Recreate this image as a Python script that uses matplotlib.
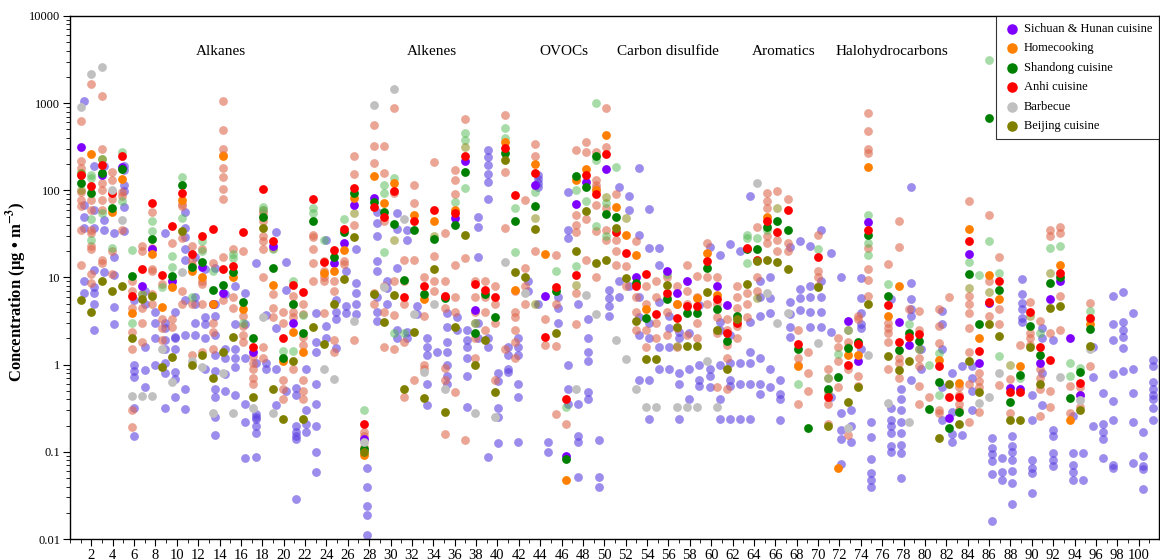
import numpy as np
import matplotlib
matplotlib.use("Agg")
import matplotlib.pyplot as plt
from matplotlib.ticker import LogLocator, FuncFormatter, MultipleLocator, NullFormatter

plt.rcParams['font.family'] = ['Liberation Serif', 'DejaVu Serif']
plt.rcParams['mathtext.fontset'] = 'stix'

# compound columns (1..107), values in ug/m3
n_compounds = 107

# group means (solid markers)
sichuan = {1: 316, 3: 150, 5: 187, 7: 8.0, 8: 21, 10: 9, 13: 13.3, 14: 5, 15: 6.6, 18: 1.4, 20: 23,
           22: 3.0, 26: 14.5, 27: 25, 28: 68, 29: 0.14, 30: 81, 38: 48, 39: 218, 40: 4.2, 46: 115,
           47: 6.2, 49: 0.089, 50: 70, 51: 123, 53: 177, 56: 10.2, 59: 12, 60: 6.7, 61: 9, 64: 8.0,
           65: 4.8, 77: 3.2, 78: 1.1, 79: 43, 82: 3.1, 83: 1.7, 87: 0.245, 89: 18.4, 90: 1.04,
           91: 5.1, 93: 0.54, 94: 0.52, 96: 1.04, 97: 5.6, 98: 9.0, 99: 2.04, 100: 0.45}
homecooking = {2: 258, 4: 56, 5: 135, 6: 3.9, 8: 18.8, 9: 4.6, 10: 7.7, 11: 78, 12: 12, 13: 10,
               14: 4.9, 15: 247, 16: 10.2, 17: 4.3, 20: 8.2, 21: 1.1, 22: 2.4, 23: 1.4, 25: 11.3,
               26: 12, 27: 20.5, 28: 82, 29: 0.093, 30: 147, 31: 72, 32: 122, 34: 52, 35: 5.6,
               36: 45, 38: 60, 43: 355, 44: 7.2, 46: 200, 47: 18.6, 49: 0.047, 50: 130, 51: 174,
               52: 102, 53: 427, 54: 65, 55: 31, 56: 18, 57: 4.4, 60: 4.9, 62: 5.8, 63: 19, 64: 6.3,
               69: 50, 72: 0.97, 76: 0.066, 77: 1.3, 78: 1.3, 79: 186, 81: 3.65, 82: 8.0, 86: 1.13,
               88: 0.62, 89: 36, 90: 2.0, 91: 10.6, 92: 5.7, 94: 0.96, 98: 13.8, 99: 0.23, 101: 2.95}
shandong = {1: 121, 2: 93, 3: 160, 4: 63, 5: 177, 6: 10.5, 8: 27.7, 10: 10.4, 11: 115, 12: 13.2,
            13: 15, 14: 7.1, 15: 8.3, 16: 11.6, 17: 5.3, 18: 2.0, 19: 49, 20: 13, 21: 1.2, 22: 4.9,
            23: 2.3, 24: 44, 26: 17, 27: 33, 28: 93, 29: 0.107, 30: 73, 31: 56, 32: 41, 33: 9.3,
            34: 35, 35: 6.4, 36: 27.5, 37: 5.8, 38: 40, 39: 162, 40: 2.3, 41: 6.4, 42: 3.5,
            43: 270, 44: 44, 46: 66, 48: 7.0, 49: 0.083, 50: 146, 51: 108, 52: 247, 53: 54, 54: 50,
            56: 8.7, 57: 3.4, 59: 5.7, 61: 3.9, 62: 3.9, 63: 13, 64: 4.4, 65: 1.85, 66: 3.6,
            67: 21.5, 68: 21.5, 69: 38, 70: 45, 71: 35, 72: 1.5, 73: 0.187, 75: 0.53, 76: 0.73,
            77: 1.57, 78: 1.82, 79: 31, 81: 6.2, 82: 1.49, 83: 2.3, 84: 1.85, 85: 0.31, 86: 0.63,
            87: 0.19, 88: 0.29, 89: 11.1, 90: 2.95, 91: 675, 92: 7.1, 93: 0.37, 94: 0.76, 95: 2.8,
            96: 1.3, 97: 8.6, 98: 10.0, 99: 0.41, 100: 0.82, 101: 2.56}
anhui = {1: 148, 2: 112, 3: 195, 4: 93, 5: 250, 6: 6.2, 7: 12.4, 8: 72, 9: 10.7, 10: 39, 11: 94,
         12: 18.4, 13: 30, 14: 36, 15: 12.6, 16: 13.7, 17: 33, 18: 1.6, 19: 104, 20: 26, 21: 2.0,
         22: 8.1, 23: 6.8, 24: 79, 25: 15.2, 26: 20.5, 27: 36, 28: 107, 29: 0.21, 30: 65, 31: 49,
         32: 98, 33: 6.0, 34: 44, 35: 7.9, 36: 59, 37: 6.2, 38: 55, 39: 250, 40: 8.4, 41: 7.1,
         42: 6.0, 43: 305, 44: 88, 46: 160, 47: 2.1, 48: 7.7, 49: 0.40, 50: 10.6, 51: 148, 52: 91,
         53: 263, 54: 33, 55: 19, 56: 7.9, 57: 11, 58: 3.8, 59: 6.7, 60: 3.4, 61: 4.7, 62: 4.7,
         63: 15.5, 64: 5.6, 65: 2.3, 66: 3.0, 67: 22, 68: 16, 69: 45, 70: 33, 71: 59, 72: 1.73,
         74: 17, 75: 0.43, 77: 1.0, 78: 1.74, 79: 35.5, 81: 4.8, 82: 1.8, 83: 2.1, 84: 2.25,
         86: 0.97, 87: 0.43, 88: 0.43, 89: 26, 90: 1.45, 91: 5.3, 92: 9.0, 93: 0.48, 94: 0.49,
         95: 4.0, 96: 1.6, 97: 1.12, 98: 11.4, 100: 0.62, 101: 3.4}
barbecue = {1: 900, 2: 2180, 3: 2580, 4: 100, 5: 46, 6: 0.44, 7: 0.44, 8: 0.44, 9: 1.5, 10: 0.63,
            11: 11.7, 12: 1.1, 13: 0.94, 14: 0.28, 15: 0.8, 16: 0.28, 18: 0.32, 19: 3.5, 20: 0.28,
            25: 0.89, 26: 0.69, 28: 3.2, 29: 0.13, 30: 960, 31: 7.8, 32: 1460, 33: 47, 34: 3.8,
            35: 0.82, 36: 5.0, 37: 0.53, 40: 0.28, 42: 0.25, 43: 15, 45: 6.7, 50: 0.52, 51: 6.3,
            52: 3.8, 54: 1.94, 55: 1.17, 56: 0.52, 57: 0.33, 58: 0.33, 60: 0.33, 61: 0.33,
            62: 0.33, 63: 1.1, 64: 0.33, 68: 120, 69: 6.7, 70: 3.0, 71: 3.9, 74: 1.77, 77: 0.19,
            79: 1.3, 81: 0.36, 83: 0.22, 90: 0.36, 91: 0.43, 92: 0.80, 98: 0.72, 100: 0.39, 101: 1.5}
beijing = {1: 5.5, 2: 4.0, 3: 9.1, 4: 7.0, 5: 7.9, 6: 2.0, 7: 5.6, 8: 6.1, 9: 0.93, 10: 1.22,
           11: 34, 12: 1.0, 13: 1.3, 14: 0.70, 15: 1.4, 16: 2.1, 18: 0.43, 19: 37, 20: 0.53,
           21: 0.24, 22: 1.1, 23: 0.24, 24: 2.7, 25: 1.74, 26: 5.0, 27: 9.5, 28: 29, 29: 0.10,
           30: 6.4, 31: 3.1, 32: 6.3, 33: 0.52, 34: 2.4, 35: 0.41, 36: 12.6, 37: 0.29, 38: 2.7,
           39: 31, 40: 1.0, 41: 1.9, 42: 0.48, 43: 220, 44: 11.7, 45: 10, 46: 36, 48: 2.3, 50: 20,
           51: 58, 52: 14.7, 53: 16, 54: 37, 55: 9.8, 56: 3.2, 57: 1.17, 58: 1.17, 59: 8.1,
           60: 2.7, 61: 1.65, 62: 1.65, 63: 6.9, 64: 2.5, 65: 0.89, 66: 3.3, 67: 8.4, 68: 15.5,
           69: 16, 70: 15, 71: 12.6, 74: 7.7, 75: 0.20, 77: 0.37, 78: 0.55, 79: 4.9, 81: 1.27,
           82: 0.86, 83: 1.11, 86: 0.143, 87: 0.60, 88: 0.21, 89: 1.09, 90: 0.49, 91: 2.95,
           92: 2.15, 93: 0.23, 94: 0.23, 95: 1.6, 96: 0.6, 97: 4.5, 98: 4.7, 100: 0.30, 101: 1.65}

# individual samples (translucent markers)
purple_samples = {
    1: [1050, 68, 50, 37, 9.1, 6.7], 2: [190, 59, 37, 12.3, 7.8, 6.6, 4.9, 2.5],
    3: [190, 46, 35, 11.7], 4: [32, 17, 10.6, 4.6, 2.9], 5: [190, 170, 115, 97, 65, 34],
    6: [5.5, 1.0, 0.85, 0.72, 0.32, 0.15], 7: [7, 5, 1.6, 0.87, 0.55], 8: [4.0, 3.0, 2.0, 0.98],
    9: [32, 3.0, 2.6, 1.9, 1.5, 1.05, 0.8, 0.32], 10: [4, 2.1, 2.0, 1.5, 0.82, 0.68, 0.42],
    11: [57, 37, 29, 21, 16, 5.5, 2.2, 0.52, 0.31], 12: [17, 6, 5, 3.0, 2.2],
    13: [12.5, 3.5, 2.9, 2.0, 0.88], 14: [13, 5, 3.6, 2.2, 1.3, 0.85, 0.53, 0.43, 0.25, 0.155],
    15: [6.4, 1.5, 1.2, 0.78, 0.5], 16: [8, 2.9, 1.5, 1.2, 0.93, 0.45],
    17: [6.6, 2.9, 1.2, 0.35, 0.22, 0.085], 18: [14.5, 1.05, 0.27, 0.25, 0.24, 0.2, 0.165, 0.087],
    19: [3.7, 1.05, 0.9], 20: [33, 2.6, 0.9, 0.34], 21: [15, 7.2, 0.5],
    22: [0.54, 0.45, 0.2, 0.17, 0.15, 0.14, 0.029], 23: [0.88, 0.30, 0.21, 0.17],
    24: [3.9, 1.8, 1.4, 0.6, 0.35, 0.2, 0.1, 0.058], 25: [27, 2.8, 2.0],
    26: [5.5, 4, 3.3, 1.54], 27: [12, 4.7, 3.9], 28: [21, 8.6, 6.7, 5.0, 3.8],
    29: [0.065, 0.04, 0.024, 0.019, 0.011], 30: [57, 42, 30, 15.5, 12, 6, 4, 3.2],
    31: [9, 7.5, 5], 32: [55, 36, 13, 2.5, 2.0], 33: [35, 27, 2.4, 2.0], 34: [4.7, 3.8],
    35: [2.0, 1.6, 1.3, 0.6, 0.34], 36: [1.4], 37: [3.9, 2.7, 1.8, 1.4, 1.0, 0.75, 0.6],
    38: [3.5, 2.5], 39: [2.5, 1.9, 1.6, 1.2, 0.74, 0.33], 40: [50, 38, 17, 3.0, 2.0],
    41: [290, 240, 195, 155, 125, 80, 2.0, 1.6, 0.087], 42: [0.8, 0.65, 0.32, 0.25, 0.125],
    43: [1.6, 1.3, 0.9, 0.82], 44: [2.0, 1.6, 1.3, 0.6, 0.43, 0.13], 45: [9, 7],
    46: [150, 135, 120, 110, 5], 47: [0.13, 0.1], 48: [6, 4.5, 3.0],
    49: [95, 35, 28, 1.0, 0.52, 0.35], 50: [4.9, 0.35, 0.15, 0.13, 0.051],
    51: [3.3, 2.0, 1.4, 1.1, 0.49, 0.40], 52: [0.137, 0.051, 0.039], 53: [7.1, 5.8, 4.7, 3.6],
    54: [108, 9, 6], 55: [85, 60, 8], 56: [178, 31, 6, 3.5, 2.2, 0.67],
    57: [61, 22, 3.0, 2.0, 0.67, 0.24], 58: [22, 14, 5.3, 1.6, 0.88], 59: [3.6, 2.6, 1.6, 0.88],
    60: [2.4, 2.0, 0.8, 0.6, 0.24], 61: [2.3, 0.88, 0.4], 62: [4.8, 1.0, 0.67, 0.57],
    63: [22.5, 0.88, 0.75, 0.55], 64: [18, 3.1, 2.5, 1.0, 0.4, 0.24],
    65: [24, 2.2, 1.04, 0.67, 0.57, 0.24], 66: [20, 1.04, 0.6, 0.24],
    67: [85, 3.1, 1.4, 1.04, 0.6, 0.24], 68: [9, 6, 3.6, 1.2, 0.6, 0.46],
    69: [10, 5.8, 3.9, 0.88, 0.55], 70: [0.67, 0.46, 0.4, 0.23], 71: [22.5, 5.2, 3.8, 2.7, 2.1],
    72: [26, 7.3, 5.8, 4.2], 73: [23, 8, 5.9, 4.0, 2.7], 74: [35, 9, 6, 4.0, 2.7],
    75: [19, 2.4, 0.43], 76: [10, 0.28, 0.18, 0.14, 0.072], 77: [0.3, 0.2, 0.13],
    78: [9.8, 5.8, 3.9, 2.9, 2.6, 1.5], 79: [0.22, 0.147, 0.083, 0.057, 0.048, 0.04],
    81: [5.6, 0.32, 0.23, 0.2, 0.165, 0.116, 0.1], 82: [0.52, 0.4, 0.3, 0.22, 0.165, 0.12, 0.096, 0.05],
    83: [108, 8.6, 5.6, 4.3, 3.6, 0.67], 84: [1.5, 0.9], 86: [4.1, 2.95, 1.5, 0.56, 0.23],
    87: [0.8, 0.29, 0.16, 0.13], 88: [0.96, 0.155], 89: [0.96, 0.7, 0.5, 0.3],
    91: [0.144, 0.11, 0.095, 0.078, 0.055, 0.016], 92: [0.085, 0.058, 0.048],
    93: [0.15, 0.116, 0.1, 0.08, 0.06, 0.044, 0.025], 94: [9.7, 6.45, 5.1, 4.3, 3.4, 3.1],
    95: [0.45, 0.23, 0.08, 0.065, 0.057, 0.034], 96: [2.6, 2.0, 0.8, 0.34],
    97: [1.9, 0.18, 0.15, 0.097, 0.08, 0.068], 99: [0.255, 0.097, 0.07, 0.058, 0.048],
    100: [0.097, 0.048], 101: [1.6, 0.73, 0.2], 102: [0.47, 0.21, 0.17, 0.14, 0.085],
    103: [6.2, 2.9, 1.9, 0.78, 0.38, 0.23, 0.071, 0.065], 104: [6.8, 3.1, 2.5, 2.1, 1.55, 0.84],
    105: [3.9, 0.88, 0.47, 0.22, 0.075], 106: [0.17, 0.089, 0.068, 0.063, 0.037],
    107: [1.14, 0.96, 0.63, 0.52, 0.45, 0.4, 0.32, 0.23],
}
salmon_samples = {
    1: [630, 217, 180, 96, 78, 66, 35, 14], 2: [1670, 78, 60, 35, 32, 23, 21, 11, 8.6],
    3: [1200, 300, 120, 100, 78, 59, 16, 14.5], 4: [163, 132, 80, 20, 11], 5: [96, 85, 35],
    6: [9, 7, 4.5, 2.4, 1.5, 0.30, 0.195], 7: [23, 20, 6.5, 4.5, 3.0, 1.8],
    8: [57, 22, 21, 12.5, 12, 6.4, 4.9], 9: [8.5, 3.3, 2.6, 1.9], 10: [24.6, 9.0, 8, 3.3, 2.7],
    11: [70, 66, 28, 7, 5], 12: [23, 16, 14, 4.9, 1.3], 13: [21, 9, 8.5, 5, 1.4],
    14: [14.5, 3.0, 2.4, 1.5], 15: [1070, 490, 297, 255, 182, 142, 104, 79, 17, 5.5],
    16: [21, 6, 4.5], 17: [20, 3.6, 2.8, 2.2, 1.8], 18: [1.25, 1.05, 0.9, 0.7, 0.6],
    19: [60, 55, 49, 44, 30, 26, 21, 10, 1.6, 1.2], 20: [22, 6.5, 4.5, 3.5],
    21: [4, 3, 0.67, 0.52, 0.40], 22: [6.1, 5.0, 4.0, 3.5, 0.9],
    23: [4.9, 3.8, 2.1, 1.7, 0.67, 0.5, 0.4], 24: [31, 29, 21, 14.5, 9],
    25: [15.6, 12, 10, 9, 3.9], 26: [9, 7, 1.9, 1.4], 27: [15.6, 14.4], 28: [245, 152, 40, 1.9],
    29: [0.17, 0.15, 0.115], 30: [560, 325, 204, 6.7, 5], 31: [325, 160, 44, 8, 4, 1.6],
    32: [870, 92, 9, 3.75, 1.5], 33: [16, 9, 5, 1.8, 0.43], 34: [115, 71, 16, 0.67],
    35: [10, 3.6, 1.0, 0.9], 36: [214, 17.5, 9, 7], 37: [32, 9, 6, 4.5, 0.92, 0.67, 0.16],
    38: [171, 133, 90, 14, 6, 4, 0.49], 39: [660, 16.6, 0.135], 40: [9, 6, 4, 3, 2, 1.2],
    41: [9, 6, 4, 2.5], 42: [8, 5, 3, 0.67], 43: [740, 163, 37, 1.5],
    44: [7, 4, 3.5, 2.5, 1.8, 1.2], 45: [78, 13, 8, 5], 46: [340, 245, 20], 47: [3.3, 1.7],
    48: [18, 5, 1.65, 0.27], 49: [0.21], 50: [290, 52, 40, 33, 6.6, 2.9], 51: [355, 275, 47, 16],
    52: [278, 130, 115, 105, 68, 34, 10], 53: [890, 316, 62, 35, 27], 54: [91, 27, 20, 14],
    55: [13.5, 8], 56: [26, 6, 4, 2.5], 57: [8, 5, 2.5, 1.6], 58: [9, 6, 3, 2],
    59: [10, 6, 4, 2.2], 60: [8, 5, 2.6, 1.6], 61: [14, 7, 5, 2.2], 62: [10.5, 6, 3, 2],
    63: [25, 10, 5], 64: [10, 5, 3.5, 2.3, 0.55], 65: [3.3, 2.5, 1.7, 1.2, 0.52],
    66: [8, 6, 4.5, 2.8, 2], 67: [6.6, 5, 3.5], 68: [38, 10, 7], 69: [92, 75, 62, 30, 25],
    70: [97, 27, 20], 71: [79, 25, 20], 72: [2.5, 1.2, 1.0, 0.35], 73: [1.4, 0.8, 0.5],
    74: [31, 12, 10, 8], 75: [0.88, 0.7, 0.5, 0.35, 0.21], 76: [2, 1.6, 1.1, 0.56],
    77: [2.5, 1.8, 1.6, 0.9, 0.157], 78: [3.6, 3.3, 0.75, 0.57],
    79: [770, 475, 300, 270, 22, 12.6, 9.4, 6.1], 81: [14.1, 3.0, 2.6, 2.3, 1.8, 0.88],
    82: [45, 22.4, 1.2, 1.05, 0.70], 83: [4.3], 84: [4.1, 2.5, 1.5, 1.2, 0.97, 0.57, 0.35],
    85: [0.43], 86: [4.3, 2.75, 1.77, 0.30, 0.28], 87: [5.9], 88: [0.55, 0.45, 0.35, 0.3],
    89: [76, 6.2, 5, 3.9, 2.6, 1.4, 0.6, 0.22], 90: [0.8, 0.65, 0.56, 0.29], 91: [52, 9.0, 3.6],
    92: [17, 4.3, 2.9, 0.59], 93: [0.68, 0.28], 94: [1.68], 95: [5.3, 2.3, 2.0, 1.7],
    96: [3.2, 0.88, 0.7, 0.52, 0.26], 97: [35, 30, 2.3, 0.5, 0.33], 98: [38, 32, 6.1, 2.5],
    99: [0.57, 0.28], 100: [0.56, 0.45, 0.33], 101: [5.1, 0.97],
}
green_samples = {
    1: [160, 150], 2: [150, 138, 47, 27], 3: [230, 55], 4: [22], 5: [277, 76], 6: [20.5, 3],
    7: [6.5], 8: [44, 34], 9: [7.8], 10: [17.8, 13.3], 11: [144, 48], 12: [6], 13: [20, 26],
    14: [12], 16: [18.5, 16.8], 17: [3], 19: [65, 60], 20: [21], 21: [1.45], 22: [9.1, 1.45],
    23: [3.7], 24: [62, 55], 25: [27], 27: [47], 29: [0.30], 31: [114, 93, 19.5], 32: [138, 2.3],
    33: [2.3], 38: [74], 39: [455, 380, 107], 40: [3.0], 43: [515, 400], 44: [62, 19.5],
    46: [95], 48: [12], 49: [0.33], 50: [102, 13.5], 51: [75], 52: [1000, 220, 39],
    53: [72, 30], 54: [183], 59: [11], 67: [31, 28, 14.5], 68: [28], 69: [35], 72: [0.6],
    74: [21], 75: [0.7, 0.45], 76: [1.34], 77: [2.5], 79: [52, 24.9, 18.3], 81: [8.4],
    83: [2.9], 84: [1.5], 85: [1.0], 86: [1.36, 0.45], 89: [15], 90: [10.6], 91: [3150, 26.5],
    92: [11.3, 1.25], 94: [0.7], 96: [2.3], 97: [21.7], 98: [23], 99: [1.05, 0.75],
    100: [0.92], 101: [4.1, 3.3],
}
olive_samples = {
    1: [160, 100], 3: [230], 28: [55], 32: [27], 36: [30], 39: [316], 46: [48, 4.9],
    50: [8.3], 53: [83], 55: [48], 60: [1.65], 68: [5.8], 70: [63], 89: [7.6], 91: [6.8],
    93: [1.0], 95: [3.6], 97: [11.2],
}

groups = ['Sichuan & Hunan cuisine', 'Homecooking', 'Shandong cuisine',
          'Anhi cuisine', 'Barbecue', 'Beijing cuisine']
group_means = [sichuan, homecooking, shandong, anhui, barbecue, beijing]
group_colors = ['#7f00ff', '#ff8000', '#008000', '#ff0000', '#c0c0c0', '#808000']

categories = ['Alkanes', 'Alkenes', 'OVOCs', 'Carbon disulfide', 'Aromatics', 'Halohydrocarbons']
category_x = [14.1, 33.9, 46.2, 56.0, 66.8, 76.9]

# columns are spaced a bit tighter than the axis units in the original
col_start, col_step = 1.07, 0.944


def col_x(k):
    return col_start + col_step * (k - 1)


def sample_points(d, dx=0.0):
    xs, ys = [], []
    for k, vals in d.items():
        for v in vals:
            xs.append(col_x(k) + dx)
            ys.append(v)
    return xs, ys


fig = plt.figure(figsize=(11.6, 5.6), dpi=100)
ax = fig.add_axes([0.0603, 0.0375, 0.9388, 0.934])

ms = 40
for d, c, a, dx in [(purple_samples, '#5b3fe0', 0.6, 0.25),
                    (salmon_samples, '#df694e', 0.6, 0.0),
                    (green_samples, '#51b951', 0.5, 0.0),
                    (olive_samples, '#808000', 0.5, 0.0)]:
    xs, ys = sample_points(d, dx)
    ax.scatter(xs, ys, s=ms, color=c, alpha=a, linewidths=0, zorder=2)

for name, d, c in zip(groups, group_means, group_colors):
    ks = sorted(d)
    ax.scatter([col_x(k) for k in ks], [d[k] for k in ks], s=ms, color=c,
               linewidths=0, zorder=3, label=name)

for lab, x in zip(categories, category_x):
    ax.text(x, 3900, lab, ha='center', va='center', fontsize=11)

ax.set_yscale('log')
ax.set_ylim(0.01, 10000)
ax.set_xlim(0, 101.9)
ax.yaxis.set_major_locator(LogLocator(base=10, numticks=10))
ax.yaxis.set_minor_locator(LogLocator(base=10, subs=np.arange(2, 10), numticks=12))
ax.yaxis.set_major_formatter(FuncFormatter(lambda v, p: f'{v:g}'))
ax.yaxis.set_minor_formatter(NullFormatter())
ax.xaxis.set_minor_locator(MultipleLocator(1))
ax.set_xticks(np.arange(2, 101, 2))
ax.tick_params(which='major', direction='out', length=5, width=0.8)
ax.tick_params(which='minor', direction='out', length=3, width=0.6)
ax.tick_params(axis='x', which='major', labelsize=10.5, pad=2)
ax.tick_params(axis='y', which='major', labelsize=9, pad=2)
ax.tick_params(axis='x', which='both', top=False)
ax.tick_params(axis='y', which='both', right=False)
for sp in ax.spines.values():
    sp.set_linewidth(1.0)

fig.text(17 / 1160, 1 - 292 / 560, 'Concentration (μg • m$^{\\mathbf{-3}}$)',
         rotation=90, ha='center', va='center', fontsize=12, fontweight='bold')

leg = ax.legend(loc='upper right', bbox_to_anchor=(1.0, 1.0), borderaxespad=0,
                fontsize=9, frameon=True, fancybox=False, edgecolor='black',
                handletextpad=0.2, labelspacing=0.6, borderpad=0.55, markerscale=1.2,
                handlelength=1.5)
leg.get_frame().set_linewidth(0.8)

plt.savefig('out.png', dpi=100)
